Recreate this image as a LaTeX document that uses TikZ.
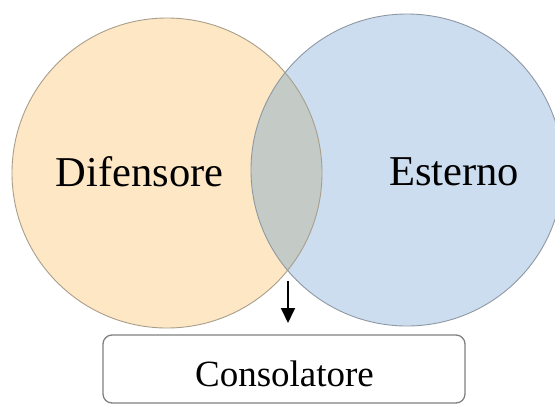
\documentclass[tikz,border=0pt]{standalone}
\usepackage{fontspec}
\setmainfont{Liberation Serif}
\usetikzlibrary{arrows.meta}
\definecolor{peach}{HTML}{FDE7C5}
\definecolor{skyb}{HTML}{CCDDF0}
\definecolor{lensc}{HTML}{C4CBC7}
\definecolor{peachline}{HTML}{A89E8A}
\definecolor{skyline}{HTML}{8E98A3}
\definecolor{boxline}{HTML}{808080}
\tikzset{
  setcircle/.style={circle, inner sep=0pt, line width=0.9pt},
  biglabel/.style={anchor=base, inner sep=0pt, font=\fontsize{42.5}{50}\selectfont},
  boxlabel/.style={anchor=base, inner sep=0pt, font=\fontsize{37}{44}\selectfont},
  rolebox/.style={draw=boxline, line width=1.3pt, rounded corners=9pt, minimum width=362pt, minimum height=68pt, inner sep=0pt, fill=white},
  arr/.style={line width=1.8pt, -{Triangle[length=15pt,width=14pt]}}
}
\begin{document}
\begin{tikzpicture}[x=1pt,y=-1pt]
\useasboundingbox (0,0) rectangle (555,405);
% filled circles
\node[setcircle, fill=peach, minimum size=310pt] (L) at (167,173) {};
\node[setcircle, fill=skyb, minimum size=312pt] (R) at (407,170) {};
% lens
\begin{scope}
  \clip (167,173) circle (155);
  \fill[lensc] (407,170) circle (156);
\end{scope}
% borders
\node[setcircle, draw=peachline, minimum size=310pt] at (L.center) {};
\node[setcircle, draw=skyline, minimum size=312pt] at (R.center) {};
% labels
\node[biglabel] (dif) at (139.5,186) {Difensore};
\node[biglabel] (est) at (454,185) {Esterno};
% box
\node[rolebox] (cons) at (284,369) {};
\node[boxlabel] (consl) at (284.5,386) {Consolatore};
% arrow
\coordinate (a1) at (288,281);
\coordinate (a2) at (288,323);
\draw[arr] (a1) -- (a2);
\end{tikzpicture}
\end{document}
